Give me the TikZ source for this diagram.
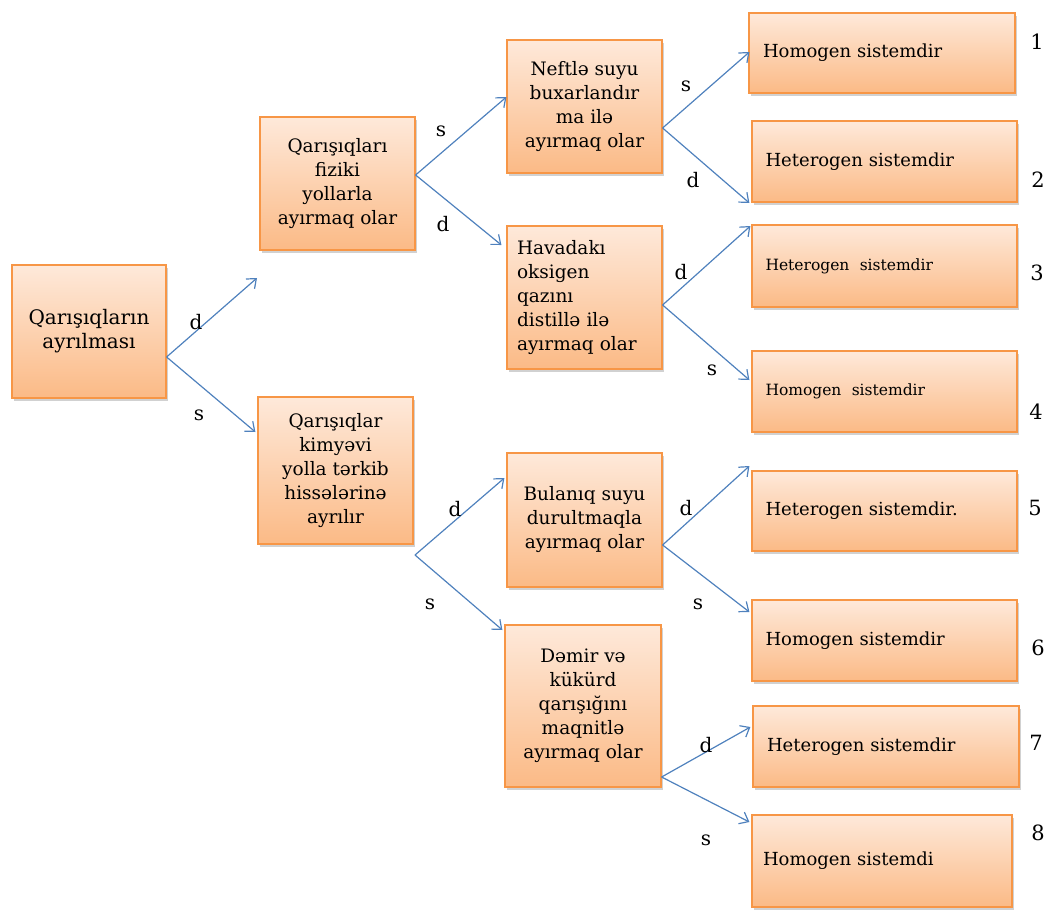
\documentclass[tikz,border=0pt]{standalone}
\usepackage{fontspec}
\setmainfont{DejaVu Serif}
\usepackage{tikz}
\usetikzlibrary{arrows.meta,shadows}

\definecolor{boxtop}{HTML}{FEE9DA}
\definecolor{boxbot}{HTML}{FBBA86}
\definecolor{boxline}{HTML}{F79646}
\definecolor{arrblue}{HTML}{4F81BD}

\tikzset{
  box/.style={draw=boxline, line width=1.2pt, top color=boxtop, bottom color=boxbot,
    drop shadow={shadow xshift=2pt, shadow yshift=-3pt, opacity=0.3, fill=black!60},
    inner sep=0pt, align=center, font=\fontsize{18.5}{24}\selectfont},
  endbox/.style={box, align=left, text width=238pt, font=\fontsize{18}{22}\selectfont},
  arr/.style={draw=arrblue, line width=1.2pt, -{Straight Barb[length=8pt,width=13pt]}},
  lbl/.style={font=\fontsize{20}{22}\selectfont, inner sep=0pt},
  num/.style={font=\fontsize{21}{24}\selectfont, inner sep=0pt}
}

\begin{document}
\begin{tikzpicture}[x=1pt,y=-1pt]
  \useasboundingbox (0,0) rectangle (1048,910);
  % boxes
  \node[box, minimum width=154pt, minimum height=133pt, font=\fontsize{20}{24}\selectfont] (root) at (89,331.5) {Qarışıqların\\ayrılması};
  \node[box, minimum width=155pt, minimum height=133pt] (fiz) at (337.5,183.5) {Qarışıqları\\fiziki\\yollarla\\ayırmaq olar};
  \node[box, minimum width=155pt, minimum height=147pt] (kim) at (335.5,470.5) {Qarışıqlar\\kimyəvi\\yolla tərkib\\hissələrinə\\ayrılır};
  \node[box, minimum width=155pt, minimum height=133pt] (neft) at (584.5,106.5) {Neftlə suyu\\buxarlandır\\ma ilə\\ayırmaq olar};
  \node[box, minimum width=155pt, minimum height=143pt, align=left, text width=135pt] (hava) at (584.5,297.5) {Havadakı\\oksigen\\qazını\\distillə ilə\\ayırmaq olar};
  \node[box, minimum width=155pt, minimum height=134pt] (bul) at (584.5,520) {Bulanıq suyu\\durultmaqla\\ayırmaq olar};
  \node[box, minimum width=156pt, minimum height=162pt] (dem) at (583,706) {Dəmir və\\kükürd\\qarışığını\\maqnitlə\\ayırmaq olar};
  \node[endbox, minimum width=266pt, minimum height=80pt] (r1) at (882,53) {Homogen sistemdir};
  \node[endbox, minimum width=265pt, minimum height=81pt] (r2) at (884.5,161.5) {Heterogen sistemdir};
  \node[endbox, minimum width=265pt, minimum height=82pt, font=\fontsize{15.5}{20}\selectfont] (r3) at (884.5,266) {Heterogen\ \ sistemdir};
  \node[endbox, minimum width=265pt, minimum height=81pt, font=\fontsize{15.5}{20}\selectfont] (r4) at (884.5,391.5) {Homogen\ \ sistemdir};
  \node[endbox, minimum width=265pt, minimum height=80pt] (r5) at (884.5,511) {Heterogen sistemdir.};
  \node[endbox, minimum width=265pt, minimum height=81pt] (r6) at (884.5,640.5) {Homogen sistemdir};
  \node[endbox, minimum width=266pt, minimum height=81pt] (r7) at (886,746.5) {Heterogen sistemdir};
  \node[endbox, minimum width=260pt, minimum height=92pt] (r8) at (882,861) {Homogen sistemdi};
  % forks
  \coordinate (f0) at (root.east |- 0,357);
  \coordinate (f1) at (fiz.east |- 0,175);
  \coordinate (f2) at (415,555);
  \coordinate (f3) at (neft.east |- 0,128);
  \coordinate (f4) at (hava.east |- 0,305);
  \coordinate (f5) at (bul.east |- 0,545);
  \coordinate (f6) at (dem.east |- 0,777);
  \coordinate (up0) at (257,278);
  % arrows
  \draw[arr] (f0) -- (up0);
  \draw[arr] (f0) -- ([xshift=-2pt]kim.west |- 0,432);
  \draw[arr] (f1) -- (neft.west |- 0,97);
  \draw[arr] (f1) -- ([xshift=-5pt]hava.west |- 0,245);
  \draw[arr] (f2) -- ([xshift=-2pt]bul.west |- 0,478);
  \draw[arr] (f2) -- ([xshift=-2pt]dem.west |- 0,630);
  \draw[arr] (f3) -- ([xshift=1pt]r1.west |- 0,52);
  \draw[arr] (f3) -- ([xshift=-2pt]r2.west |- 0,203);
  \draw[arr] (f4) -- ([xshift=-1pt]r3.west |- 0,226);
  \draw[arr] (f4) -- ([xshift=-2pt]r4.west |- 0,380);
  \draw[arr] (f5) -- ([xshift=-2pt]r5.west |- 0,466);
  \draw[arr] (f5) -- ([xshift=-2pt]r6.west |- 0,612);
  \draw[arr] (f6) -- ([xshift=-2pt]r7.west |- 0,727);
  \draw[arr] (f6) -- ([xshift=-2pt]r8.west |- 0,822);
  % labels
  \node[lbl] (l0d) at (196,322) {d};
  \node[lbl] (l0s) at (199,415) {s};
  \node[lbl] (l1s) at (441,131) {s};
  \node[lbl] (l1d) at (443,224) {d};
  \node[lbl] (l2d) at (455,509) {d};
  \node[lbl] (l2s) at (430,604) {s};
  \node[lbl] (l3s) at (686,86) {s};
  \node[lbl] (l3d) at (693,180) {d};
  \node[lbl] (l4d) at (681,272) {d};
  \node[lbl] (l4s) at (712,370) {s};
  \node[lbl] (l5d) at (686,508) {d};
  \node[lbl] (l5s) at (698,604) {s};
  \node[lbl] (l6d) at (706,745) {d};
  \node[lbl] (l6s) at (706,840) {s};
  % numbers
  \node[num] (n1) at (1037,42) {1};
  \node[num] (n2) at (1038,180) {2};
  \node[num] (n3) at (1037,273) {3};
  \node[num] (n4) at (1036,412) {4};
  \node[num] (n5) at (1035,508) {5};
  \node[num] (n6) at (1038,648) {6};
  \node[num] (n7) at (1036,743) {7};
  \node[num] (n8) at (1038,833) {8};
\end{tikzpicture}
\end{document}
